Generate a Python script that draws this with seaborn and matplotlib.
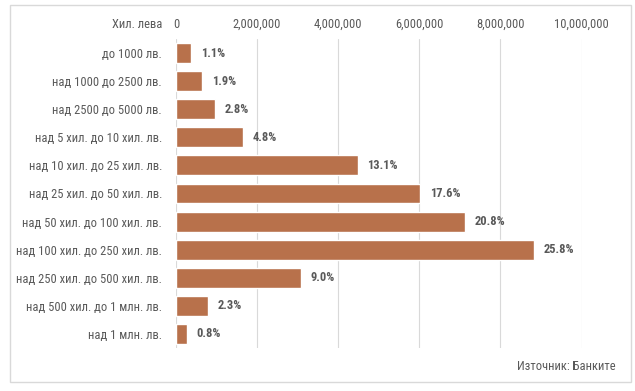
import numpy as np
import pandas as pd
import matplotlib
matplotlib.use('Agg')
import matplotlib.pyplot as plt
import seaborn as sns
from matplotlib.patches import Rectangle
from matplotlib.ticker import FuncFormatter

# Данни (хил. лева) - отчетени от графиката
categories = ['до 1000 лв.', 'над 1000 до 2500 лв.', 'над 2500 до 5000 лв.',
              'над 5 хил. до 10 хил. лв.', 'над 10 хил. до 25 хил. лв.',
              'над 25 хил. до 50 хил. лв.', 'над 50 хил. до 100 хил. лв.',
              'над 100 хил. до 250 хил. лв.', 'над 250 хил. до 500 хил. лв.',
              'над 500 хил. до 1 млн. лв.', 'над 1 млн. лв.']
values = [376000, 650000, 958000, 1642000, 4482000, 6020000,
          7115000, 8825000, 3079000, 787000, 274000]
shares = ['1.1%', '1.9%', '2.8%', '4.8%', '13.1%', '17.6%',
          '20.8%', '25.8%', '9.0%', '2.3%', '0.8%']
xticks = [0, 2000000, 4000000, 6000000, 8000000, 10000000]

df = pd.DataFrame({'Категория': categories, 'Стойност': values})

sns.set_theme(style='white')
plt.rcParams['font.family'] = ['Roboto Condensed', 'PT Sans Narrow', 'DejaVu Sans']

text_gray = '#595959'
bar_color = '#B8714B'

fig = plt.figure(figsize=(6.35, 3.91), dpi=100)
ax = fig.add_axes([176 / 635, 1 - 348 / 391, (581.5 - 176) / 635, (348 - 39) / 391])

sns.barplot(data=df, x='Стойност', y='Категория', orient='h', color=bar_color,
            width=0.71, saturation=1, ax=ax)

ax.set_xlim(0, 10000000)
ax.set_ylim(10.5, -0.5)
ax.set_xticks(xticks)
ax.xaxis.set_major_formatter(FuncFormatter(lambda v, p: f'{int(v):,}'))
ax.xaxis.tick_top()
ax.tick_params(axis='x', length=0, pad=6, labelsize=9, labelcolor=text_gray)
ax.tick_params(axis='y', length=0, pad=10, labelsize=9, labelcolor=text_gray)
ax.set_xlabel('')
ax.set_ylabel('')
ax.grid(axis='x', color='#D9D9D9', linewidth=0.8)
ax.set_axisbelow(True)
for s in ax.spines.values():
    s.set_visible(False)

# Проценти до стълбовете
for i, (v, s) in enumerate(zip(values, shares)):
    ax.text(v + 240000, i, s, va='center', ha='left', fontsize=9,
            fontweight='bold', color=text_gray)

fig.text(162 / 635, 1 - 24 / 391, 'Хил. лева', ha='right', va='center',
         fontsize=9, color=text_gray)
fig.text(616 / 635, 1 - 367 / 391, 'Източник: Банките', ha='right', va='center',
         fontsize=9, color=text_gray)

# Рамка около графиката
fig.patches.append(Rectangle((10 / 635, 1 - 382 / 391), 621 / 635, 377 / 391,
                             transform=fig.transFigure, fill=False,
                             edgecolor='#D9D9D9', linewidth=1))

fig.savefig('out.png', dpi=100)
